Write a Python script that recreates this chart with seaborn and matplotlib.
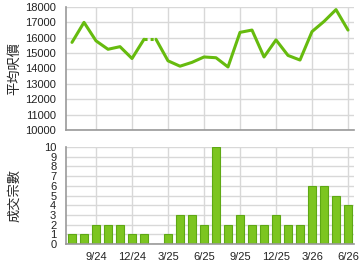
import matplotlib
matplotlib.use("Agg")
import matplotlib.pyplot as plt
import seaborn as sns
import pandas as pd
import numpy as np

months = ["7/24","8/24","9/24","10/24","11/24","12/24","1/25","2/25","3/25","4/25","5/25","6/25",
          "7/25","8/25","9/25","10/25","11/25","12/25","1/26","2/26","3/26","4/26","5/26","6/26"]
avg_price = [15700,17000,15800,15250,15420,14650,15900,15900,14500,14150,14400,14750,
             14700,14100,16350,16500,14750,15860,14850,14550,16400,17060,17830,16500]
deals = [1,1,2,2,2,1,1,0,1,3,3,2,10,2,3,2,2,3,2,2,6,6,5,4]
tick_labels = ["9/24","12/24","3/25","6/25","9/25","12/25","3/26","6/26"]
tick_months = ["9/24","12/24","3/25","6/25","9/25","12/25","3/26","6/26"]

sns.set_style("white")
plt.rcParams['font.family'] = ['Liberation Sans', 'Noto Sans CJK TC', 'DejaVu Sans']

fig = plt.figure(figsize=(3.6, 2.7), dpi=100)
ax1 = fig.add_axes([66/360, 1-130/270, 288/360, 123/270])
ax2 = fig.add_axes([66/360, 1-244/270, 288/360, 97/270])

idx = list(range(len(months)))
df = pd.DataFrame({"i": idx, "price": avg_price, "deals": deals, "month": months})
seg = np.where(np.array(idx) <= 6, 0, 1)
df["seg"] = seg
line_col = "#66bb0e"
sns.lineplot(data=df, x="i", y="price", units="seg", estimator=None, color=line_col,
             lw=2.2, ax=ax1, legend=False)
dot = df[(df.i >= 6) & (df.i <= 7)]
sns.lineplot(data=dot, x="i", y="price", color=line_col, lw=2.2, linestyle=(0, (1, 1)), ax=ax1)

grid_col = "#d8d8d8"
tick_pos = [months.index(m) for m in tick_months]
for ax in (ax1, ax2):
    ax.set_xlim(-0.5, 23.5)
    ax.set_xticks(tick_pos)
    for sp in ("top", "right"):
        ax.spines[sp].set_visible(False)
    for sp in ("left", "bottom"):
        ax.spines[sp].set_color("#999999")
        ax.spines[sp].set_linewidth(1.2)
    ax.grid(True, color=grid_col, lw=1)
    ax.set_axisbelow(True)
    ax.tick_params(labelsize=8, colors="#222222", length=0)
    ax.tick_params(axis="y", pad=7)
    ax.set_xlabel("")

ax1.set_ylim(10000, 18000)
ax1.set_yticks(range(10000, 18001, 1000))
ax1.set_xticklabels([])
ax1.set_ylabel("平均呎價", fontsize=9.5, family=['Noto Sans CJK TC'])

sns.barplot(data=df, x="i", y="deals", color="#7cc520", edgecolor="#5ea814", linewidth=0.8,
            width=0.72, ax=ax2, native_scale=True, saturation=1)
ax2.set_xlim(-0.5, 23.5)
ax2.set_xticks(tick_pos)
ax2.set_xticklabels(tick_labels)
ax2.set_ylim(0, 10)
ax2.set_yticks(range(0, 11))
ax2.tick_params(axis="x", length=3, color="#999999", pad=3)
ax2.set_ylabel("成交宗數", fontsize=9.5, family=['Noto Sans CJK TC'])
ax2.set_xlabel("")

ax1.yaxis.set_label_coords(-0.155, 0.5)
ax2.yaxis.set_label_coords(-0.155, 0.5)

fig.savefig("out.png", dpi=100)
